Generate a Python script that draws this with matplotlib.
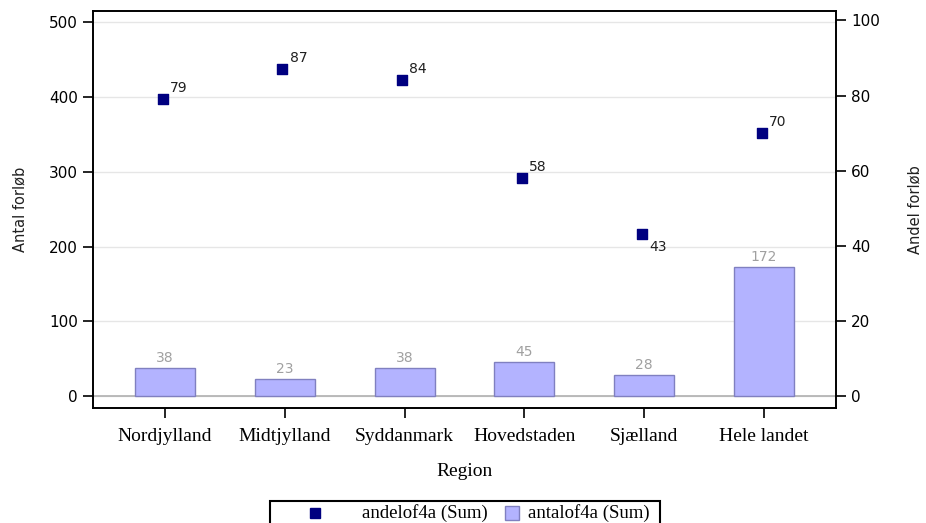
import numpy as np
import matplotlib.pyplot as plt
from matplotlib.patches import Rectangle
from matplotlib.lines import Line2D

# data
regioner = ['Nordjylland', 'Midtjylland', 'Syddanmark', 'Hovedstaden', 'Sjælland', 'Hele landet']
antal = [38, 23, 38, 45, 28, 172]      # antalof4a (Sum) - bars, left axis
andel = [79, 87, 84, 58, 43, 70]       # andelof4a (Sum) - points, right axis

serif = ['Liberation Serif', 'DejaVu Serif']
sans = ['DejaVu Sans']
bar_farve = '#b3b3ff'
punkt_farve = '#000080'

fig = plt.figure(figsize=(9.26, 5.23), dpi=100)
ax = fig.add_axes([93 / 926, 1 - 408 / 523, (836 - 93) / 926, (408 - 11) / 523])
ax2 = ax.twinx()

x = np.arange(len(regioner))
ax.bar(x, antal, width=0.5, color=bar_farve, edgecolor='#8080c0', linewidth=1, zorder=3)
for xi, v in zip(x, antal):
    ax.text(xi, v + 4, str(v), ha='center', va='bottom', color='#a0a0a0', fontsize=10, family=sans)

ax.axhline(0, color='#b0b0b0', linewidth=1.2, zorder=2)
ax.set_ylim(-16, 515)
ax.set_yticks([0, 100, 200, 300, 400, 500])
ax.grid(axis='y', color='#e6e6e6', linewidth=1, zorder=0)
ax.set_xlim(-0.6, 5.6)
ax.set_xticks(x)
ax.set_xlabel('Region', family=serif, fontsize=14, labelpad=13)
ax.set_ylabel('Antal forløb', family=sans, fontsize=10.5, labelpad=15, color='#202020')

ax2.scatter(x - 0.02, andel, marker='s', s=45, color=punkt_farve, zorder=4)
for xi, v in zip(x, andel):
    if v < 50:
        ax2.text(xi + 0.04, v - 1.5, str(v), ha='left', va='top', color='#202020', fontsize=10, family=sans)
    else:
        ax2.text(xi + 0.04, v + 1.2, str(v), ha='left', va='bottom', color='#202020', fontsize=10, family=sans)
ax2.set_ylim(-16 / 5, 102.5)
ax2.set_yticks([0, 20, 40, 60, 80, 100])
ax2.set_ylabel('Andel forløb', family=sans, fontsize=10.5, labelpad=20, color='#202020')

for a in (ax, ax2):
    for sp in a.spines.values():
        sp.set_color('black')
        sp.set_linewidth(1.2)
    a.tick_params(axis='both', length=7.5, width=1.2, labelsize=11, colors='black')
    for lab in a.get_yticklabels():
        lab.set_family(sans)
ax.tick_params(axis='x', pad=7)
ax.set_xticklabels(regioner, family=serif, fontsize=14)

ax2.set_zorder(ax.get_zorder() + 1)
ax2.patch.set_visible(False)

# legend box at the bottom (cut by the figure edge like the original)
W, H = 926, 523
fig.patches.append(Rectangle((270 / W, -0.02), 390 / W, (H - 501) / H + 0.02, transform=fig.transFigure,
                             facecolor='white', edgecolor='black', linewidth=1.5))
ly = 1 - 513 / H
fig.lines.append(Line2D([315 / W], [ly], transform=fig.transFigure, marker='s', markersize=7,
                        color=punkt_farve, linestyle='none'))
fig.text(362 / W, ly, 'andelof4a (Sum)', family=serif, fontsize=13.5, va='center', ha='left')
fig.patches.append(Rectangle((505 / W, ly - 7 / H), 14 / W, 14 / H, transform=fig.transFigure,
                             facecolor=bar_farve, edgecolor='#8080c0', linewidth=1))
fig.text(528 / W, ly, 'antalof4a (Sum)', family=serif, fontsize=13.5, va='center', ha='left')

fig.savefig('out.png', dpi=100)
